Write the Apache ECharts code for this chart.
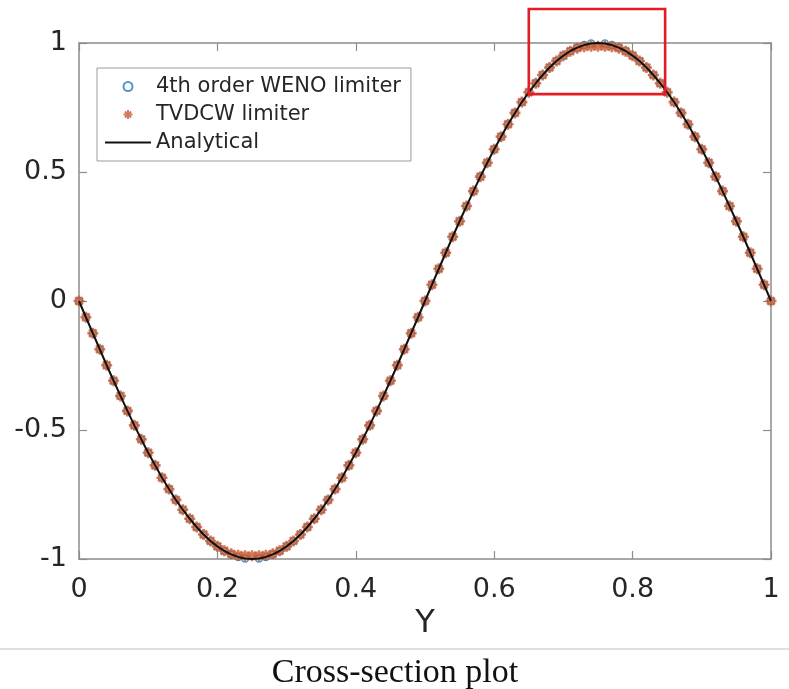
<!DOCTYPE html>
<html>
<head>
<meta charset="utf-8">
<script src="https://cdn.jsdelivr.net/npm/echarts@6/dist/echarts.min.js"></script>
<style>
  html, body { margin: 0; padding: 0; background: #fff; }
  #chart { width: 789px; height: 689px; }
</style>
</head>
<body>
<div id="chart"></div>
<script>
// Sample locations along the cross-section
const yPositions = [
  0, 0.01, 0.02, 0.03, 0.04, 0.05, 0.06, 0.07, 0.08, 0.09,
  0.10, 0.11, 0.12, 0.13, 0.14, 0.15, 0.16, 0.17, 0.18, 0.19,
  0.20, 0.21, 0.22, 0.23, 0.24, 0.25, 0.26, 0.27, 0.28, 0.29,
  0.30, 0.31, 0.32, 0.33, 0.34, 0.35, 0.36, 0.37, 0.38, 0.39,
  0.40, 0.41, 0.42, 0.43, 0.44, 0.45, 0.46, 0.47, 0.48, 0.49,
  0.50, 0.51, 0.52, 0.53, 0.54, 0.55, 0.56, 0.57, 0.58, 0.59,
  0.60, 0.61, 0.62, 0.63, 0.64, 0.65, 0.66, 0.67, 0.68, 0.69,
  0.70, 0.71, 0.72, 0.73, 0.74, 0.75, 0.76, 0.77, 0.78, 0.79,
  0.80, 0.81, 0.82, 0.83, 0.84, 0.85, 0.86, 0.87, 0.88, 0.89,
  0.90, 0.91, 0.92, 0.93, 0.94, 0.95, 0.96, 0.97, 0.98, 0.99,
  1.00
];

// Analytical profile
const analyticalVals = [
  0, -0.063, -0.125, -0.187, -0.249, -0.309, -0.368, -0.426, -0.482, -0.536,
  -0.588, -0.637, -0.685, -0.729, -0.771, -0.809, -0.844, -0.876, -0.905, -0.930,
  -0.951, -0.969, -0.982, -0.992, -0.998, -1.000, -0.998, -0.992, -0.982, -0.969,
  -0.951, -0.930, -0.905, -0.876, -0.844, -0.809, -0.771, -0.729, -0.685, -0.637,
  -0.588, -0.536, -0.482, -0.426, -0.368, -0.309, -0.249, -0.187, -0.125, -0.063,
  0, 0.063, 0.125, 0.187, 0.249, 0.309, 0.368, 0.426, 0.482, 0.536,
  0.588, 0.637, 0.685, 0.729, 0.771, 0.809, 0.844, 0.876, 0.905, 0.930,
  0.951, 0.969, 0.982, 0.992, 0.998, 1.000, 0.998, 0.992, 0.982, 0.969,
  0.951, 0.930, 0.905, 0.876, 0.844, 0.809, 0.771, 0.729, 0.685, 0.637,
  0.588, 0.536, 0.482, 0.426, 0.368, 0.309, 0.249, 0.187, 0.125, 0.063,
  0
];

// 4th order WENO limiter solution
const wenoVals = [
  0, -0.063, -0.125, -0.187, -0.249, -0.309, -0.368, -0.426, -0.482, -0.536,
  -0.588, -0.637, -0.685, -0.729, -0.771, -0.809, -0.844, -0.876, -0.905, -0.930,
  -0.951, -0.969, -0.982, -0.992, -0.998, -1.002, -0.998, -0.992, -0.982, -0.969,
  -0.951, -0.930, -0.905, -0.876, -0.844, -0.809, -0.771, -0.729, -0.685, -0.637,
  -0.588, -0.536, -0.482, -0.426, -0.368, -0.309, -0.249, -0.187, -0.125, -0.063,
  0, 0.063, 0.125, 0.187, 0.249, 0.309, 0.368, 0.426, 0.482, 0.536,
  0.588, 0.637, 0.685, 0.729, 0.771, 0.809, 0.844, 0.876, 0.905, 0.930,
  0.951, 0.969, 0.982, 0.992, 0.998, 1.002, 0.998, 0.992, 0.982, 0.969,
  0.951, 0.930, 0.905, 0.876, 0.844, 0.809, 0.771, 0.729, 0.685, 0.637,
  0.588, 0.536, 0.482, 0.426, 0.368, 0.309, 0.249, 0.187, 0.125, 0.063,
  0
];

// TVDCW limiter solution (slightly clipped at the extrema)
const tvdcwVals = [
  0, -0.063, -0.125, -0.187, -0.249, -0.309, -0.368, -0.426, -0.482, -0.536,
  -0.588, -0.637, -0.685, -0.729, -0.771, -0.809, -0.844, -0.876, -0.905, -0.930,
  -0.951, -0.968, -0.980, -0.985, -0.987, -0.987, -0.987, -0.985, -0.980, -0.968,
  -0.951, -0.930, -0.905, -0.876, -0.844, -0.809, -0.771, -0.729, -0.685, -0.637,
  -0.588, -0.536, -0.482, -0.426, -0.368, -0.309, -0.249, -0.187, -0.125, -0.063,
  0, 0.063, 0.125, 0.187, 0.249, 0.309, 0.368, 0.426, 0.482, 0.536,
  0.588, 0.637, 0.685, 0.729, 0.771, 0.809, 0.844, 0.876, 0.905, 0.930,
  0.951, 0.968, 0.980, 0.985, 0.987, 0.987, 0.987, 0.985, 0.980, 0.968,
  0.951, 0.930, 0.905, 0.876, 0.844, 0.809, 0.771, 0.729, 0.685, 0.637,
  0.588, 0.536, 0.482, 0.426, 0.368, 0.309, 0.249, 0.187, 0.125, 0.063,
  0
];

const seriesNames = ['4th order WENO limiter', 'TVDCW limiter', 'Analytical'];
const xTickStep = 0.2;
const yTickStep = 0.5;

// Zoom-in frame around the crest, in data units: [xMin, xMax, yMin, yMax]
const crestFrame = [0.650, 0.847, 0.802, 1.132];

const captionText = 'Cross-section plot';

function pairs(xs, ys) {
  return xs.map((x, i) => [x, ys[i]]);
}

const axisGray = '#8c8c8c';
const labelColor = '#262626';
const sansFont = '"DejaVu Sans", sans-serif';
const asterisk = 'path://M5,0L5,10M0,5L10,5M1.6,1.6L8.4,8.4M8.4,1.6L1.6,8.4';
const legendLine = 'path://M0,0L46,0L46,2L0,2Z';

const chart = echarts.init(document.getElementById('chart'), null, { renderer: 'canvas' });

const boxAxis = {
  min: 0, max: 1,
  axisLine: { show: true, onZero: false, lineStyle: { color: axisGray, width: 1.5 } },
  axisTick: { show: true, inside: true, length: 8, lineStyle: { color: axisGray, width: 1.2 } },
  axisLabel: { show: false },
  splitLine: { show: false }
};

const option = {
  animation: false,
  backgroundColor: '#ffffff',
  grid: { left: 79, right: 18, top: 43, bottom: 130, containLabel: false },
  legend: {
    data: [
      { name: seriesNames[0] },
      { name: seriesNames[1] },
      { name: seriesNames[2], icon: legendLine }
    ],
    orient: 'vertical',
    left: 97,
    top: 68,
    padding: [8, 10, 8, 8],
    itemGap: 7,
    itemWidth: 46,
    itemHeight: 9,
    backgroundColor: '#ffffff',
    borderColor: '#9a9a9a',
    borderWidth: 1,
    borderRadius: 0,
    textStyle: { fontFamily: sansFont, fontSize: 21, color: labelColor }
  },
  xAxis: [
    {
      type: 'value', min: 0, max: 1, interval: xTickStep,
      name: 'Y', nameLocation: 'middle', nameGap: 45,
      nameTextStyle: { fontFamily: sansFont, fontSize: 32, color: labelColor },
      axisLine: { show: true, onZero: false, lineStyle: { color: axisGray, width: 1.5 } },
      axisTick: { show: true, inside: true, length: 8, lineStyle: { color: axisGray, width: 1.2 } },
      axisLabel: { show: true, margin: 17, fontFamily: sansFont, fontSize: 27, color: labelColor },
      splitLine: { show: false }
    },
    Object.assign({}, boxAxis, { type: 'value', position: 'top', interval: xTickStep })
  ],
  yAxis: [
    {
      type: 'value', min: -1, max: 1, interval: yTickStep,
      axisLine: { show: true, onZero: false, lineStyle: { color: axisGray, width: 1.5 } },
      axisTick: { show: true, inside: true, length: 8, lineStyle: { color: axisGray, width: 1.2 } },
      axisLabel: { show: true, margin: 12, fontFamily: sansFont, fontSize: 27, color: labelColor },
      splitLine: { show: false }
    },
    Object.assign({}, boxAxis, { type: 'value', position: 'right', min: -1, max: 1, interval: yTickStep })
  ],
  series: [
    {
      name: seriesNames[0],
      type: 'scatter',
      data: pairs(yPositions, wenoVals),
      symbol: 'circle',
      symbolSize: 7,
      itemStyle: { color: 'rgba(255,255,255,0)', borderColor: '#2a7ab8', borderWidth: 1.6 },
      z: 2
    },
    {
      name: seriesNames[1],
      type: 'scatter',
      data: pairs(yPositions, tvdcwVals),
      symbol: asterisk,
      symbolSize: 11,
      itemStyle: { color: 'rgba(0,0,0,0)', borderColor: '#c85a31', borderWidth: 2.6 },
      z: 3
    },
    {
      name: seriesNames[2],
      type: 'line',
      data: pairs(yPositions, analyticalVals),
      symbol: 'none',
      smooth: false,
      lineStyle: { color: '#111111', width: 2 },
      itemStyle: { color: '#111111' },
      z: 4
    }
  ]
};

chart.setOption(option);

// Annotation frame and caption, placed from data / layout values
const p0 = chart.convertToPixel({ xAxisIndex: 0, yAxisIndex: 0 }, [crestFrame[0], crestFrame[3]]);
const p1 = chart.convertToPixel({ xAxisIndex: 0, yAxisIndex: 0 }, [crestFrame[1], crestFrame[2]]);

chart.setOption({
  graphic: [
    {
      type: 'rect',
      shape: { x: p0[0], y: p0[1], width: p1[0] - p0[0], height: p1[1] - p0[1] },
      style: { fill: 'none', stroke: '#e31b23', lineWidth: 2.6 },
      z: 100
    },
    {
      type: 'line',
      shape: { x1: 0, y1: 649, x2: 789, y2: 649 },
      style: { stroke: '#d4d4d4', lineWidth: 1.5 },
      z: 100
    },
    {
      type: 'text',
      x: 395, y: 673,
      style: {
        text: captionText,
        fontFamily: '"Liberation Serif", "Times New Roman", serif',
        fontSize: 34,
        fill: '#111111',
        align: 'center',
        verticalAlign: 'middle'
      },
      z: 100
    }
  ]
});
</script>
</body>
</html>
